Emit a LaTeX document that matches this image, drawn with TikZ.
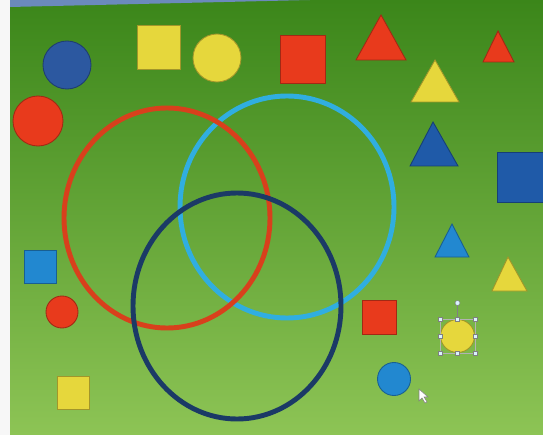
\documentclass[tikz,border=0pt]{standalone}
\definecolor{bgtop}{HTML}{3B861A}
\definecolor{bgmid}{HTML}{63A632}
\definecolor{bgbot}{HTML}{8DC455}
\definecolor{yel}{HTML}{E6D73C}
\definecolor{tomato}{HTML}{E83A1C}
\definecolor{navyblue}{HTML}{2C58A0}
\definecolor{deepblue}{HTML}{1F5AA8}
\definecolor{midblue}{HTML}{2288D0}
\definecolor{ringred}{HTML}{D8401C}
\definecolor{ringsky}{HTML}{30AEE0}
\definecolor{ringnavy}{HTML}{1B3A66}
\begin{document}
\begin{tikzpicture}[x=0.02cm,y=-0.02cm,
  piece/.style={fill=#1,draw=#1!70!black,line width=0.5pt},
  ring/.style={draw=#1,line width=2.8pt},
  grip/.style={fill=white!85!cyan,draw=gray,line width=0.3pt}]
\useasboundingbox (0,0) rectangle (543,435);
% screen
\shade[top color=bgtop,middle color=bgmid,bottom color=bgbot] (10,0) rectangle (543,435);
\fill[white!94!gray] (0,0) rectangle (10,435);
\fill[navyblue!70!white] (10,0) -- (310,0) -- (10,7) -- cycle;
% venn rings
\draw[ring=ringsky] (287,207) ellipse [x radius=107, y radius=111];
\draw[ring=ringred] (167,218) ellipse [x radius=103, y radius=110];
\draw[ring=ringnavy] (237,306) ellipse [x radius=104, y radius=113];
% circles
\draw[piece=navyblue] (67,65) circle (24);
\draw[piece=tomato] (38,121) circle (25);
\draw[piece=tomato] (62,312) circle (16);
\draw[piece=yel] (217,58) circle (24);
\draw[piece=midblue] (394,379) circle (16.5);
% squares
\draw[piece=midblue] (24,250) rectangle (56,283);
\draw[piece=yel] (57,376) rectangle (89,409);
\draw[piece=yel] (137,25) rectangle (180,69);
\draw[piece=tomato] (280,35) rectangle (325,83);
\draw[piece=tomato] (362,300) rectangle (396,334);
\draw[piece=deepblue] (497,152) rectangle (543,202);
% triangles
\draw[piece=tomato] (381,15) -- (406,60) -- (356,60) -- cycle;
\draw[piece=tomato] (498,31) -- (514,62) -- (483,62) -- cycle;
\draw[piece=yel] (435,60) -- (459,102) -- (411,102) -- cycle;
\draw[piece=deepblue] (433,122) -- (458,166) -- (410,166) -- cycle;
\draw[piece=midblue] (452,224) -- (469,257) -- (435,257) -- cycle;
\draw[piece=yel] (508,257) -- (527,291) -- (492,291) -- cycle;
% selected ellipse
\draw[piece=yel] (457.5,336) ellipse [x radius=17, y radius=16.5];
\draw[gray!60,line width=0.3pt] (440,319) rectangle (475,353);
\draw[gray,line width=0.4pt] (457.5,304) -- (457.5,319);
\draw[grip] (457.5,303) circle (2.5);
\foreach \gx/\gy in {440/319,457.5/319,475/319,440/336,475/336,440/353,457.5/353,475/353}
  \draw[grip] (\gx-2,\gy-2) rectangle (\gx+2,\gy+2);
% pointer
\draw[fill=white,draw=gray,line width=0.3pt] (419,389) -- (419,401) -- (422,398)
  -- (425,403) -- (427,402) -- (424,397) -- (428,397) -- cycle;
\end{tikzpicture}
\end{document}
